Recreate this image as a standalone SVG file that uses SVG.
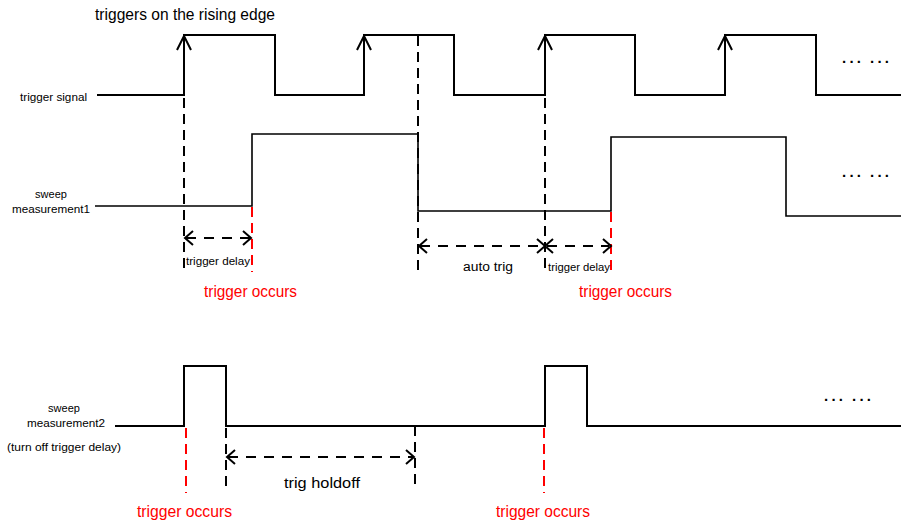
<svg xmlns="http://www.w3.org/2000/svg" width="901" height="526" viewBox="0 0 901 526">
<defs>
<style>
.sig{fill:none;stroke:#000;stroke-width:2}
.sw{fill:none;stroke:#000;stroke-width:1.6}
.dk{fill:none;stroke:#000;stroke-width:2;stroke-dasharray:10 6}
.rd{fill:none;stroke:#ff0000;stroke-width:2;stroke-dasharray:10 6}
.ar{fill:none;stroke:#000;stroke-width:2;stroke-dasharray:10 8}
.hd{fill:none;stroke:#000;stroke-width:2}
text{font-family:"Liberation Sans",Arial,sans-serif;fill:#000}
.red{fill:#ff0000}
.dots{font-weight:bold;font-size:15px}
</style>
</defs>
<g id="title"><text x="95" y="20" font-size="16" textLength="180" lengthAdjust="spacingAndGlyphs">triggers on the rising edge</text></g>
<g id="trigger-signal">
<text x="87" y="101" font-size="11" text-anchor="end" textLength="67" lengthAdjust="spacingAndGlyphs">trigger signal</text>
<polyline class="sig" points="97,95 184,95 184,35 275,35 275,95 364,95 364,35 454,35 454,95 545,95 545,35 635,35 635,95 725,95 725,35 816,35 816,95 901,95"/>
<polyline class="hd" points="177,50 184,36 191,50"/>
<polyline class="hd" points="357,50 364,36 371,50"/>
<polyline class="hd" points="538,50 545,36 552,50"/>
<polyline class="hd" points="718,50 725,36 732,50"/>
<text class="dots" x="842" y="63" textLength="19" lengthAdjust="spacing">...</text>
<text class="dots" x="870" y="63" textLength="19" lengthAdjust="spacing">...</text>
</g>
<g id="sweep1">
<text x="51" y="198" font-size="11" text-anchor="middle">sweep</text>
<text x="51" y="213" font-size="11" text-anchor="middle" textLength="78" lengthAdjust="spacingAndGlyphs">measurement1</text>
<polyline class="sw" points="95,206 252,206 252,134 418,134 418,211 611,211 611,137 786,137 786,216 901,216"/>
<text class="dots" x="842" y="177" textLength="19" lengthAdjust="spacing">...</text>
<text class="dots" x="870" y="177" textLength="19" lengthAdjust="spacing">...</text>
</g>
<g id="sweep2">
<text x="64" y="412" font-size="11" text-anchor="middle">sweep</text>
<text x="66" y="427" font-size="11" text-anchor="middle" textLength="78" lengthAdjust="spacingAndGlyphs">measurement2</text>
<text x="64" y="451" font-size="11" text-anchor="middle" textLength="114" lengthAdjust="spacingAndGlyphs">(turn off trigger delay)</text>
<polyline class="sig" points="115,426 184,426 184,366 226,366 226,426 545,426 545,366 587,366 587,426 901,426"/>
<text class="dots" x="824" y="401" textLength="19" lengthAdjust="spacing">...</text>
<text class="dots" x="852" y="401" textLength="19" lengthAdjust="spacing">...</text>
</g>
<g id="connectors">
<line class="dk" x1="184" y1="98" x2="184" y2="271"/>
<line class="dk" x1="418" y1="36" x2="418" y2="271"/>
<line class="dk" x1="545" y1="98" x2="545" y2="273"/>
<line class="rd" x1="252" y1="207" x2="252" y2="272"/>
<line class="rd" x1="611" y1="212" x2="611" y2="276"/>
<line class="ar" x1="186" y1="238" x2="250" y2="238"/>
<polyline class="hd" points="193,231 185,238 193,245"/>
<polyline class="hd" points="243,231 251,238 243,245"/>
<line class="ar" x1="420" y1="246" x2="543" y2="246"/>
<polyline class="hd" points="427,239 419,246 427,253"/>
<polyline class="hd" points="537,239 545,246 537,253"/>
<line class="ar" x1="547" y1="246" x2="609" y2="246"/>
<polyline class="hd" points="553,239 545,246 553,253"/>
<polyline class="hd" points="603,239 611,246 603,253"/>
<line class="rd" x1="186" y1="428" x2="186" y2="493"/>
<line class="rd" x1="544" y1="428" x2="544" y2="493"/>
<line class="dk" x1="226" y1="428" x2="226" y2="489"/>
<line class="dk" x1="415" y1="426" x2="415" y2="485"/>
<line class="ar" x1="228" y1="457" x2="413" y2="457"/>
<polyline class="hd" points="235,450 227,457 235,464"/>
<polyline class="hd" points="406,450 414,457 406,464"/>
</g>
<g id="labels">
<text x="186" y="265" font-size="11" textLength="64" lengthAdjust="spacingAndGlyphs">trigger delay</text>
<text x="463" y="271" font-size="12" textLength="50" lengthAdjust="spacingAndGlyphs">auto trig</text>
<text x="548" y="271" font-size="11" textLength="62" lengthAdjust="spacingAndGlyphs">trigger delay</text>
<text class="red" x="204" y="297" font-size="16" textLength="93" lengthAdjust="spacingAndGlyphs">trigger occurs</text>
<text class="red" x="579" y="297" font-size="16" textLength="93" lengthAdjust="spacingAndGlyphs">trigger occurs</text>
<text x="284" y="488" font-size="15" textLength="76" lengthAdjust="spacingAndGlyphs">trig holdoff</text>
<text class="red" x="137" y="517" font-size="16" textLength="95" lengthAdjust="spacingAndGlyphs">trigger occurs</text>
<text class="red" x="496" y="517" font-size="16" textLength="94" lengthAdjust="spacingAndGlyphs">trigger occurs</text>
</g>
</svg>
